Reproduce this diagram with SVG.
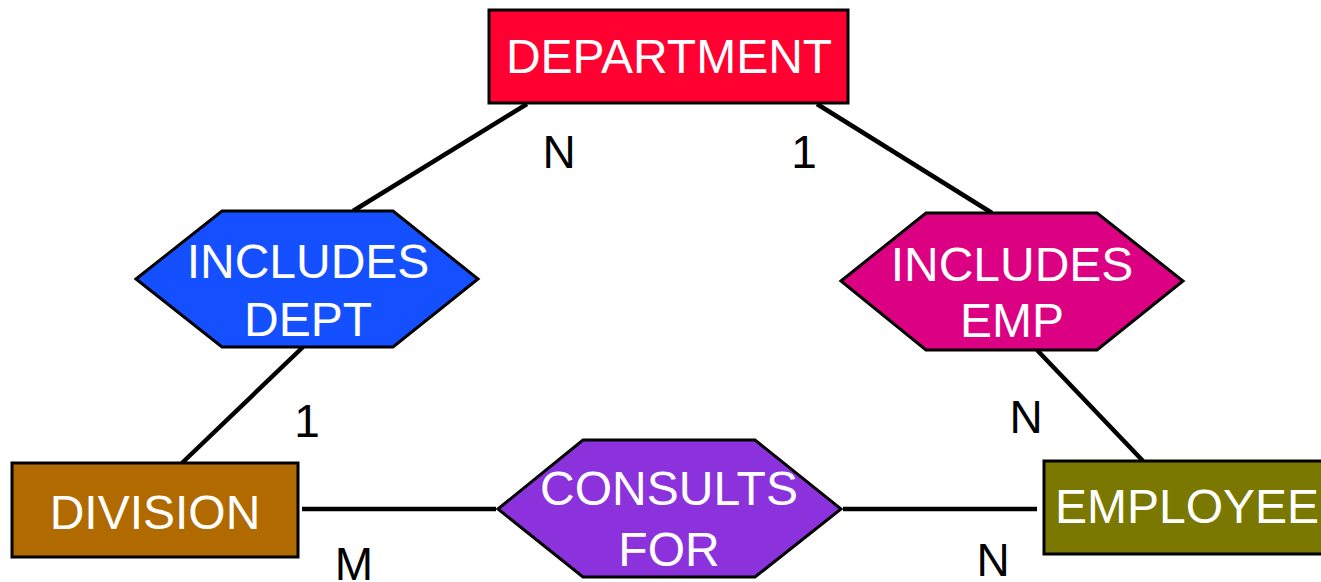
<svg xmlns="http://www.w3.org/2000/svg" width="1321" height="582" viewBox="0 0 1321 582">
  <style>
    .entity { stroke: #000; stroke-width: 3; }
    .rel { stroke: #000; stroke-width: 3; stroke-linejoin: miter; }
    .label { font-family: "Liberation Sans", Arial, sans-serif; font-size: 48px; fill: #fff; text-anchor: middle; }
    .card { font-family: "Liberation Sans", Arial, sans-serif; font-size: 46px; fill: #000; text-anchor: middle; }
    .edge { stroke: #000; stroke-width: 4.5; fill: none; }
  </style>
  <rect width="1321" height="582" fill="#fff"/>

  <!-- relationship lines -->
  <g id="connectors">
    <line class="edge" x1="527" y1="104" x2="353" y2="211"/>
    <line class="edge" x1="817" y1="104" x2="992" y2="213"/>
    <line class="edge" x1="303" y1="347" x2="182" y2="463"/>
    <line class="edge" x1="1037" y1="350" x2="1143" y2="461"/>
    <line class="edge" x1="302" y1="509" x2="496" y2="509"/>
    <line class="edge" x1="843" y1="509" x2="1037" y2="509"/>
  </g>

  <!-- entities -->
  <g id="department">
    <rect class="entity" x="489" y="10" width="359" height="93" fill="#ff0030"/>
    <text class="label" x="669" y="73">DEPARTMENT</text>
  </g>
  <g id="division">
    <rect class="entity" x="12" y="463" width="286" height="94" fill="#b06a00"/>
    <text class="label" x="155" y="529">DIVISION</text>
  </g>
  <g id="employee">
    <rect class="entity" x="1044" y="461" width="290" height="93" fill="#7a7800"/>
    <text class="label" x="1187" y="523">EMPLOYEE</text>
  </g>

  <!-- relationships -->
  <g id="includes-dept">
    <polygon class="rel" points="136,279 222,211 393,211 478,279 393,347 222,347" fill="#1450ff"/>
    <text class="label" x="308" y="278">INCLUDES</text>
    <text class="label" x="308" y="336">DEPT</text>
  </g>
  <g id="includes-emp">
    <polygon class="rel" points="841,281 926,213 1097,213 1183,281 1097,350 926,350" fill="#dc0082"/>
    <text class="label" x="1012" y="281">INCLUDES</text>
    <text class="label" x="1012" y="337">EMP</text>
  </g>
  <g id="consults-for">
    <polygon class="rel" points="498,509 583,440 755,440 841,509 755,577 583,577" fill="#8c32dc"/>
    <text class="label" x="669" y="505">CONSULTS</text>
    <text class="label" x="669" y="566">FOR</text>
  </g>

  <!-- cardinalities -->
  <g id="cardinalities">
    <text class="card" x="559" y="168">N</text>
    <text class="card" x="804" y="168">1</text>
    <text class="card" x="307" y="437">1</text>
    <text class="card" x="1026" y="433">N</text>
    <text class="card" x="354" y="580">M</text>
    <text class="card" x="993" y="576">N</text>
  </g>
</svg>
